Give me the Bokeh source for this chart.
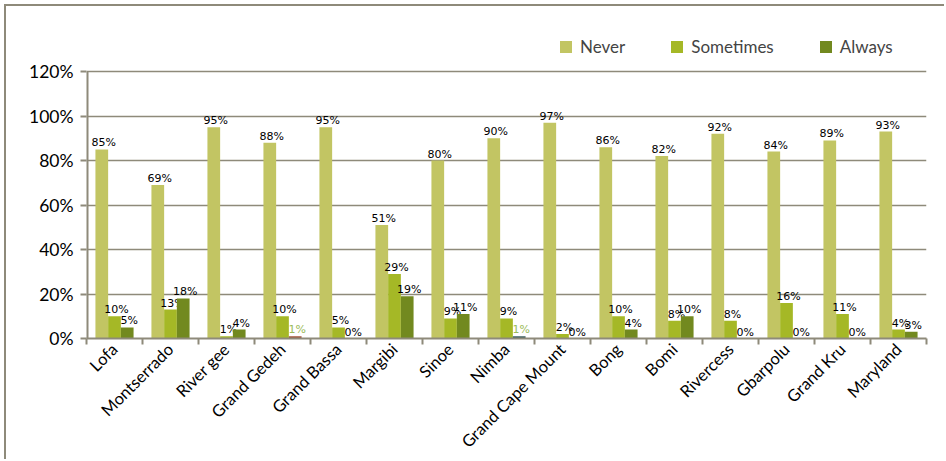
import math
from bokeh.plotting import figure
from bokeh.models import (ColumnDataSource, Range1d, FixedTicker, PrintfTickFormatter,
                          Legend, LegendItem)
from bokeh.core.properties import value
from bokeh.embed import file_html
from bokeh.resources import INLINE

counties = ["Lofa", "Montserrado", "River gee", "Grand Gedeh", "Grand Bassa", "Margibi",
            "Sinoe", "Nimba", "Grand Cape Mount", "Bong", "Bomi", "Rivercess",
            "Gbarpolu", "Grand Kru", "Maryland"]
never = [85, 69, 95, 88, 95, 51, 80, 90, 97, 86, 82, 92, 84, 89, 93]
sometimes = [10, 13, 1, 10, 5, 29, 9, 9, 2, 10, 8, 8, 16, 11, 4]
always = [5, 18, 4, 1, 0, 19, 11, 1, 0, 4, 10, 0, 0, 0, 3]
y_ticks = [0, 20, 40, 60, 80, 100, 120]

# styles
C_NEVER = "#c2c563"
C_SOME = "#a5b826"
C_ALWAYS = "#72891f"
SPECIAL_BAR = {"Grand Gedeh": "#a3553a", "Nimba": "#3c5f5f"}
SPECIAL_LABEL = "#9bbb59"
GRID = "#8e8a7a"
AX_FONT = "Lato"
LBL_FONT = "DejaVu Sans"
BAR_W = 0.227
# frame extends above the 120% line to hold the legend (312 px frame, 267 px for 0..120)
Y_MAX = 120 * 312 / 267

xs = list(range(len(counties)))
always_colors = [SPECIAL_BAR.get(c, C_ALWAYS) for c in counties]
always_lbl_colors = [SPECIAL_LABEL if c in SPECIAL_BAR else "black" for c in counties]

p = figure(width=940, height=455, x_range=Range1d(-0.5, len(counties) - 0.5),
           y_range=Range1d(0, Y_MAX), output_backend="svg", toolbar_location=None,
           min_border_left=80, min_border_right=20, min_border_top=20, min_border_bottom=123)
p.styles = {"margin-left": "4px", "margin-top": "4px",
            "border-left": f"2px solid {GRID}", "border-top": f"2px solid {GRID}"}
p.outline_line_color = None
p.xgrid.grid_line_color = None
p.ygrid.grid_line_color = GRID
p.ygrid.grid_line_width = 1.6

# y axis line only up to the top tick
p.segment(x0=[-0.5], y0=[0], x1=[-0.5], y1=[max(y_ticks)], line_color=GRID, line_width=4)

series = [("Never", never, C_NEVER, -BAR_W), ("Sometimes", sometimes, C_SOME, 0.0),
          ("Always", always, C_ALWAYS, BAR_W)]
items = []
for name, vals, col, off in series:
    bar_x = [x + off for x in xs]
    if name == "Always":
        fills = always_colors
        lcols = always_lbl_colors
    else:
        fills = [col] * len(xs)
        lcols = ["black"] * len(xs)
    src = ColumnDataSource(dict(x=bar_x, top=vals, fill=fills, lcol=lcols,
                                txt=[f"{v}%" for v in vals]))
    r = p.vbar(x="x", top="top", bottom=0, width=BAR_W, fill_color="fill", line_color=None,
               source=src)
    p.text(x="x", y="top", text="txt", source=src, text_color="lcol",
           text_font=value(LBL_FONT), text_font_size="11px", text_align="center",
           text_baseline="bottom", x_offset=2, y_offset=0)
    items.append(LegendItem(label=name, renderers=[r], index=0))

legend = Legend(items=items, orientation="horizontal", location=(472, 281))
legend.glyph_width = 15
legend.glyph_height = 15
legend.label_text_font = AX_FONT
legend.label_text_font_size = "17px"
legend.label_standoff = 7
legend.spacing = 44
legend.padding = 0
legend.margin = 0
legend.border_line_color = None
legend.background_fill_alpha = 0
p.add_layout(legend, "center")

# y axis
ya = p.yaxis[0]
ya.ticker = FixedTicker(ticks=y_ticks)
ya.formatter = PrintfTickFormatter(format="%d%%")
ya.axis_line_color = None
ya.major_tick_line_color = GRID
ya.major_tick_line_width = 2
ya.major_tick_out = 6
ya.major_tick_in = 0
ya.minor_tick_line_color = None
ya.major_label_text_font = AX_FONT
ya.major_label_text_font_size = "17.5px"
ya.major_label_text_color = "black"
ya.major_label_standoff = 7

# x axis
xa = p.xaxis[0]
xa.ticker = FixedTicker(ticks=xs, minor_ticks=[x - 0.5 for x in xs] + [len(xs) - 0.5])
xa.major_label_overrides = {x: c for x, c in zip(xs, counties)}
xa.major_label_orientation = math.pi / 4
xa.axis_line_color = GRID
xa.axis_line_width = 2
xa.major_tick_out = 0
xa.major_tick_in = 0
xa.major_tick_line_color = None
xa.minor_tick_line_color = GRID
xa.minor_tick_line_width = 2
xa.minor_tick_out = 6
xa.minor_tick_in = 0
xa.major_label_text_font = AX_FONT
xa.major_label_text_font_size = "16.5px"
xa.major_label_text_color = "black"
xa.major_label_standoff = 2

open("out.html", "w").write(file_html(p, INLINE))
